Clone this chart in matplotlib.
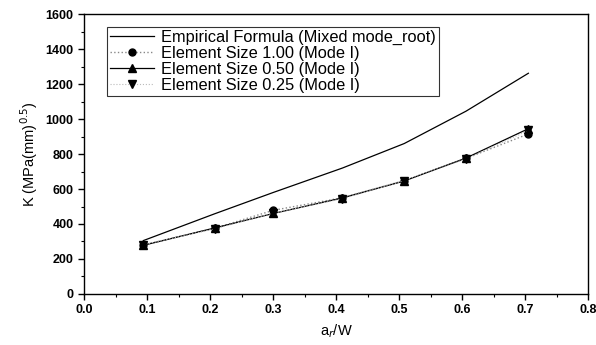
import matplotlib
matplotlib.use("Agg")
import matplotlib.pyplot as plt
from matplotlib.ticker import MultipleLocator

plt.rcParams['font.family'] = ['Liberation Sans', 'DejaVu Sans']

x_vals = [0.094, 0.207, 0.300, 0.410, 0.508, 0.606, 0.705]
empirical = [305, 458, 580, 720, 860, 1045, 1262]
size_100 = [280, 375, 478, 550, 648, 775, 915]
size_050 = [278, 377, 460, 549, 646, 777, 945]
size_025 = [282, 372, 462, 545, 648, 772, 935]

labels = ["Empirical Formula (Mixed mode_root)",
          "Element Size 1.00 (Mode I)",
          "Element Size 0.50 (Mode I)",
          "Element Size 0.25 (Mode I)"]

fig = plt.figure(figsize=(5.96, 3.45), dpi=100)
ax = fig.add_axes([0.141, 0.148, 0.846, 0.811])

ax.plot(x_vals, empirical, color='black', lw=0.9, label=labels[0])
ax.plot(x_vals, size_100, color='#888888', lw=1.0, ls=':', marker='o',
        markersize=5, markerfacecolor='black', markeredgecolor='black', label=labels[1])
ax.plot(x_vals, size_050, color='black', lw=0.9, ls='-', marker='^',
        markersize=6, markerfacecolor='black', markeredgecolor='black', label=labels[2])
ax.plot(x_vals, size_025, color='#bbbbbb', lw=0.8, ls=':', marker='v',
        markersize=6, markerfacecolor='black', markeredgecolor='black', label=labels[3])

ax.set_xlim(0.0, 0.8)
ax.set_ylim(0, 1600)
ax.xaxis.set_major_locator(MultipleLocator(0.1))
ax.xaxis.set_minor_locator(MultipleLocator(0.05))
ax.yaxis.set_major_locator(MultipleLocator(200))
ax.yaxis.set_minor_locator(MultipleLocator(100))
ax.set_xticks([round(0.1 * i, 1) for i in range(9)])
ax.set_xticklabels(["%.1f" % (0.1 * i) for i in range(9)])

ax.tick_params(axis='both', which='major', direction='out', length=4, width=1,
               labelsize=9, top=False, right=False)
ax.tick_params(axis='both', which='minor', direction='out', length=2, width=0.8,
               top=False, right=False)
for lab in ax.get_xticklabels() + ax.get_yticklabels():
    lab.set_fontweight('bold')
for s in ax.spines.values():
    s.set_linewidth(1.0)

ax.set_xlabel(r"a$_r$/W", fontsize=10.5)
ax.set_ylabel(r"K (MPa(mm)$^{0.5}$)", fontsize=10.5)

leg = ax.legend(loc='upper left', bbox_to_anchor=(0.045, 0.955), fontsize=11.8,
                frameon=True, fancybox=False, edgecolor='black',
                handlelength=2.7, borderpad=0.2, labelspacing=0.05,
                handletextpad=0.4, borderaxespad=0.0)
leg.get_frame().set_linewidth(0.8)

fig.savefig("out.png", dpi=100)
